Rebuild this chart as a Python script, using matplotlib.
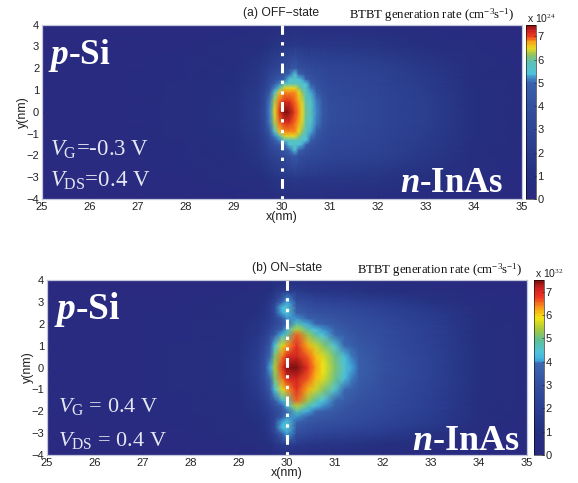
import numpy as np
import matplotlib
matplotlib.use("Agg")
import matplotlib.pyplot as plt
from matplotlib.colors import LinearSegmentedColormap

plt.rcParams.update({
    'font.family': ['Liberation Sans', 'DejaVu Sans'],
    'mathtext.fontset': 'custom',
    'mathtext.rm': 'Liberation Serif',
    'mathtext.it': 'Liberation Serif:italic',
    'mathtext.bf': 'Liberation Serif:bold',
    'mathtext.bfit': 'Liberation Serif:italic:bold',
})

# ---------- data ----------
x_off = [25, 27, 28, 29, 29.5, 29.65, 29.75, 29.85, 29.95, 30.05, 30.15, 30.27, 30.35, 30.42, 30.5, 30.6, 30.72, 30.85, 31, 32, 33, 34, 35]
y_off = [0, 0.5, 0.9, 1.1, 1.3, 1.5, 1.75, 2, 3, 4]
off_rows = [
    [0.2, 0.3, 0.6, 1.2, 2.2, 3.6, 5.2, 6.5, 7.1, 7.5, 7.4, 7.0, 6.8, 6.5, 6.0, 5.7, 5.2, 4.4, 3.8, 3.0, 2.3, 1.0, 0.3],
    [0.2, 0.3, 0.6, 1.2, 2.1, 3.4, 5.1, 6.3, 6.9, 7.1, 7.1, 6.9, 6.7, 6.4, 5.9, 5.6, 5.1, 4.3, 3.7, 3.0, 2.3, 1.0, 0.3],
    [0.2, 0.3, 0.6, 1.1, 2.0, 3.1, 4.6, 5.6, 6.6, 6.85, 6.85, 6.8, 6.5, 6.2, 5.8, 5.3, 4.6, 4.0, 3.5, 2.9, 2.2, 1.0, 0.3],
    [0.2, 0.3, 0.6, 1.1, 1.9, 2.8, 4.1, 5.2, 5.9, 6.4, 6.5, 6.5, 6.2, 5.8, 5.6, 5.1, 4.3, 3.8, 3.4, 2.9, 2.2, 1.0, 0.3],
    [0.2, 0.3, 0.6, 1.0, 1.8, 2.6, 3.6, 4.6, 5.2, 5.6, 5.7, 5.75, 5.7, 5.6, 5.4, 4.8, 4.0, 3.7, 3.3, 2.8, 2.1, 0.9, 0.3],
    [0.2, 0.3, 0.5, 1.0, 1.7, 2.4, 3.2, 3.9, 4.4, 5.0, 5.5, 5.65, 5.5, 5.3, 4.8, 4.2, 3.8, 3.5, 3.2, 2.8, 2.0, 0.9, 0.3],
    [0.2, 0.3, 0.5, 1.0, 1.6, 2.2, 2.8, 3.3, 3.7, 4.3, 4.9, 5.45, 4.9, 4.4, 4.0, 3.7, 3.5, 3.3, 3.1, 2.7, 1.9, 0.8, 0.3],
    [0.2, 0.3, 0.5, 0.9, 1.5, 2.0, 2.5, 2.8, 3.2, 3.6, 4.1, 4.6, 4.1, 3.9, 3.6, 3.4, 3.3, 3.2, 3.0, 2.6, 1.8, 0.8, 0.3],
    [0.1, 0.2, 0.3, 0.6, 0.9, 1.1, 1.3, 1.5, 1.6, 1.7, 1.8, 1.9, 1.9, 1.9, 1.8, 1.8, 1.8, 1.7, 1.7, 1.5, 1.0, 0.5, 0.2],
    [0.1, 0.1, 0.1, 0.2, 0.3, 0.4, 0.4, 0.5, 0.5, 0.5, 0.5, 0.5, 0.5, 0.5, 0.5, 0.5, 0.5, 0.5, 0.4, 0.4, 0.3, 0.2, 0.1],
]

x_on = [25, 27, 28, 29, 29.4, 29.55, 29.65, 29.75, 29.9, 30, 30.2, 30.44, 30.6, 30.75, 31, 31.2, 31.35, 31.5, 32, 33, 34, 35]
y_on = [0, 0.5, 1, 1.5, 1.75, 2, 2.25, 2.5, 2.75, 3, 3.5, 4]
on_rows = [
    [0.2, 0.3, 0.6, 1.1, 2.0, 3.0, 4.1, 5.4, 6.8, 7.4, 7.5, 6.8, 6.3, 5.9, 5.1, 4.5, 4.05, 3.6, 3.0, 2.2, 1.0, 0.3],
    [0.2, 0.3, 0.6, 1.1, 1.9, 2.9, 3.9, 5.1, 6.5, 7.0, 7.1, 6.6, 6.1, 5.7, 5.0, 4.3, 3.95, 3.5, 2.95, 2.2, 1.0, 0.3],
    [0.2, 0.3, 0.6, 1.0, 1.7, 2.5, 3.4, 4.4, 5.7, 6.3, 6.9, 6.2, 5.6, 5.2, 4.5, 3.9, 3.6, 3.3, 2.9, 2.1, 1.0, 0.3],
    [0.2, 0.3, 0.5, 0.9, 1.5, 2.0, 2.7, 3.4, 4.2, 4.9, 6.6, 5.3, 4.8, 4.4, 3.9, 3.5, 3.3, 3.1, 2.8, 2.0, 0.9, 0.3],
    [0.2, 0.3, 0.5, 0.9, 1.4, 1.8, 2.3, 2.9, 3.6, 4.2, 5.5, 4.7, 4.3, 4.0, 3.6, 3.3, 3.1, 3.0, 2.7, 2.0, 0.9, 0.3],
    [0.2, 0.3, 0.5, 0.8, 1.3, 1.6, 2.0, 2.5, 3.2, 3.9, 4.7, 4.1, 3.8, 3.6, 3.3, 3.1, 3.0, 2.9, 2.6, 1.9, 0.9, 0.3],
    [0.2, 0.3, 0.4, 0.8, 1.2, 1.5, 1.9, 2.4, 3.3, 4.0, 4.0, 3.6, 3.4, 3.3, 3.1, 3.0, 2.9, 2.8, 2.5, 1.8, 0.8, 0.3],
    [0.1, 0.2, 0.4, 0.7, 1.1, 1.4, 1.8, 2.6, 4.1, 4.4, 3.6, 3.2, 3.1, 3.0, 2.9, 2.8, 2.7, 2.6, 2.3, 1.7, 0.7, 0.2],
    [0.1, 0.2, 0.4, 0.7, 1.1, 1.4, 1.8, 2.8, 4.3, 4.5, 3.3, 2.9, 2.8, 2.7, 2.6, 2.5, 2.4, 2.4, 2.1, 1.5, 0.6, 0.2],
    [0.1, 0.2, 0.3, 0.6, 1.0, 1.2, 1.6, 2.2, 3.7, 4.1, 2.9, 2.6, 2.4, 2.3, 2.2, 2.2, 2.1, 2.0, 1.8, 1.2, 0.5, 0.2],
    [0.1, 0.1, 0.2, 0.4, 0.6, 0.8, 1.0, 1.4, 1.8, 1.9, 1.7, 1.5, 1.4, 1.4, 1.3, 1.3, 1.2, 1.2, 1.0, 0.7, 0.3, 0.1],
    [0.1, 0.1, 0.1, 0.2, 0.3, 0.3, 0.4, 0.5, 0.5, 0.5, 0.5, 0.5, 0.4, 0.4, 0.4, 0.4, 0.4, 0.3, 0.3, 0.2, 0.1, 0.1],
]

color_ticks = [0, 1, 2, 3, 4, 5, 6, 7]
color_max = 7.5
x_ticks = list(range(25, 36))
y_ticks = list(range(-4, 5))
off_color_stops = [(0, '#2a2a80'), (1, '#25307f'), (3, '#2f4596'), (4, '#33509f'), (5, '#3a62ad'),
                   (5.2, '#3f86c6'), (5.4, '#50c3dc'), (5.9, '#5cc2b4'), (6.2, '#8fc264'), (6.5, '#e8d820'),
                   (6.8, '#f8a018'), (7.0, '#f04020'), (7.3, '#c82020'), (7.5, '#7a1010')]
on_color_stops = [(0, '#2a2a80'), (1, '#25307f'), (2, '#2c3f92'), (3, '#34509f'), (3.9, '#3b68b0'),
                  (4.1, '#40b0e0'), (4.4, '#50c4dc'), (4.9, '#5cbf9a'), (5.4, '#a8c83c'), (5.9, '#f5e60f'),
                  (6.3, '#f8a018'), (6.8, '#ee3424'), (7.2, '#c82020'), (7.5, '#7a1010')]


def mirrored(y, rows):
    y = np.asarray(y, float)
    z = np.asarray(rows, float)
    return np.r_[-y[:0:-1], y], np.vstack([z[:0:-1], z])


def make_cmap(stops):
    return LinearSegmentedColormap.from_list('c', [(v / color_max, c) for v, c in stops], N=128)


fig = plt.figure(figsize=(5.78, 4.83), dpi=100, facecolor='white')
W, H = 578.0, 483.0


def panel(box, cbox, xs, ys, rows, stops, title, title_x, ctitle_x, exp, labels):
    l, t, r, b = box
    ax = fig.add_axes([l / W, 1 - b / H, (r - l) / W, (b - t) / H])
    yy, zz = mirrored(ys, rows)
    cmap = make_cmap(stops)
    m = ax.pcolormesh(xs, yy, zz, shading='gouraud', cmap=cmap, vmin=0, vmax=color_max, rasterized=True)
    ax.set_xlim(25, 35)
    ax.set_ylim(-4, 4)
    ax.set_xticks(x_ticks)
    ax.set_yticks(y_ticks)
    ax.tick_params(labelsize=8, length=1.5, width=0.4, colors='#222222', direction='in')
    ax.tick_params(axis='x', pad=2.5)
    ax.tick_params(axis='y', pad=2)
    ax.set_xlabel('x(nm)', fontsize=9, labelpad=-1, color='#222222')
    ax.set_ylabel('y(nm)', fontsize=9, labelpad=-2, color='#222222')
    for s in ax.spines.values():
        s.set_color('#c4c8dc')
        s.set_linewidth(0.9)
    ax.plot([30, 30], [-4, 4], color='white', lw=2.2, ls=(0, (1.1, 2.4, 3.2, 2.4, 1.1, 2.4)), zorder=5)
    for s, px, py, fs, c in labels:
        ax.text(px, py, s, fontsize=fs, color=c, ha='left', va='baseline',
                family='Liberation Serif', weight='bold' if fs > 18 else 'normal', zorder=6)
    fig.text(title_x / W, 1 - (t - 12) / H, title, fontsize=8.7, ha='center', va='center', color='#222222')
    fig.text(ctitle_x / W, 1 - (t - 10) / H, r'BTBT generation rate (cm$^{-3}$s$^{-1}$)', fontsize=9.2,
             ha='center', va='center', family='Liberation Serif', color='#111111')
    cl, cr = cbox
    cax = fig.add_axes([cl / W, 1 - b / H, (cr - cl) / W, (b - t) / H])
    cb = fig.colorbar(m, cax=cax)
    cb.set_ticks(color_ticks)
    cb.ax.tick_params(labelsize=8, length=1.5, width=0.4, pad=1.5, direction='in', colors='#222222')
    cb.outline.set_linewidth(0.4)
    fig.text((cl + 1) / W, 1 - (t - 6) / H, 'x 10$^{%s}$' % exp, fontsize=7.5, ha='left', va='center', color='#222222')
    return ax


panel((42, 24.7, 522, 199), (526, 535.5), x_off, y_off, off_rows, off_color_stops,
      '(a) OFF\u2212state', 281, 432, '24',
      [(r'$\mathbfit{p}$-Si', 25.13, 2.2, 25.5, 'white'),
       (r'$\mathbfit{n}$-InAs', 32.45, -3.7, 25, 'white'),
       (r'$\mathit{V}_{\mathrm{G}}$=-0.3 V', 25.17, -2.0, 16.5, '#e4e6f2'),
       (r'$\mathit{V}_{\mathrm{DS}}$=0.4 V', 25.17, -3.45, 16.5, '#e4e6f2')])

panel((47, 280, 527, 455), (534, 543.5), x_on, y_on, on_rows, on_color_stops,
      '(b) ON\u2212state', 287, 440, '32',
      [(r'$\mathbfit{p}$-Si', 25.15, 2.2, 27, 'white'),
       (r'$\mathbfit{n}$-InAs', 32.6, -3.75, 26, 'white'),
       (r'$\mathit{V}_{\mathrm{G}}$ = 0.4 V', 25.22, -2.05, 16, '#e4e6f2'),
       (r'$\mathit{V}_{\mathrm{DS}}$ = 0.4 V', 25.22, -3.6, 16, '#e4e6f2')])

fig.savefig('out.png', dpi=100)
